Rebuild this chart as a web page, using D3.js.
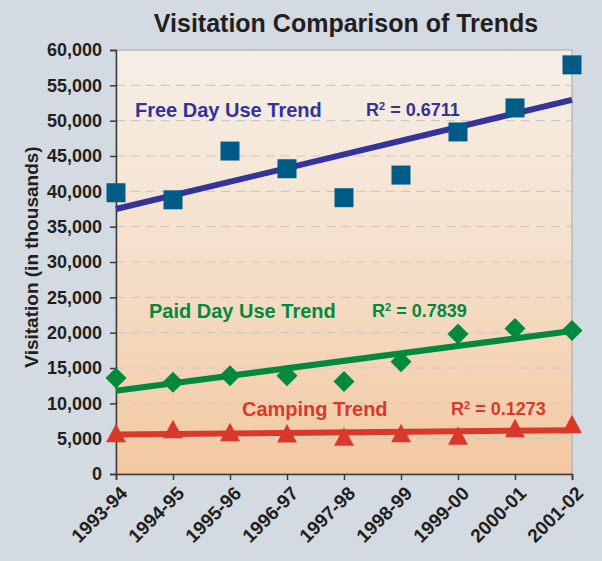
<!DOCTYPE html>
<html>
<head>
<meta charset="utf-8">
<script src="https://cdn.jsdelivr.net/npm/d3@7"></script>
<style>
  body { margin: 0; background: #d3dae1; }
  svg { display: block; font-family: "Liberation Sans", Arial, sans-serif; }
</style>
</head>
<body>
<div id="chart"></div>
<script>
var seasons = ["1993-94", "1994-95", "1995-96", "1996-97", "1997-98", "1998-99", "1999-00", "2000-01", "2001-02"]
var freeDayUse = [39800, 38800, 45700, 43200, 39100, 42300, 48400, 51800, 57900]
var paidDayUse = [13600, 13000, 13900, 13900, 13100, 15900, 19800, 20600, 20300]
var camping = [5700, 6250, 5830, 5660, 5200, 5700, 5350, 6400, 6980]
var yTicks = [0, 5000, 10000, 15000, 20000, 25000, 30000, 35000, 40000, 45000, 50000, 55000, 60000]
var seriesNames = ["Free Day Use Trend", "Paid Day Use Trend", "Camping Trend"]
var rSquared = ["0.6711", "0.7839", "0.1273"]

var width = 602,
  height = 561,
  margin = { top: 50, right: 30, bottom: 87, left: 116 }

var svg = d3
  .select("#chart")
  .append("svg")
  .attr("width", width)
  .attr("height", height)

svg.append("rect").attr("width", width).attr("height", height).attr("fill", "#d3dae1")

var defs = svg.append("defs")
var grad = defs
  .append("linearGradient")
  .attr("id", "plotbg")
  .attr("x1", 0).attr("y1", 0).attr("x2", 0).attr("y2", 1)
grad.append("stop").attr("offset", "0%").attr("stop-color", "#f6efe7")
grad.append("stop").attr("offset", "45%").attr("stop-color", "#f5e1cd")
grad.append("stop").attr("offset", "100%").attr("stop-color", "#f3c8a0")

var x = d3
  .scalePoint()
  .domain(seasons)
  .range([margin.left, width - margin.right])

var y = d3
  .scaleLinear()
  .domain([0, 60000])
  .range([height - margin.bottom, margin.top])

// plot background
svg
  .append("rect")
  .attr("x", margin.left)
  .attr("y", margin.top)
  .attr("width", width - margin.right - margin.left)
  .attr("height", height - margin.bottom - margin.top)
  .attr("fill", "url(#plotbg)")
  .attr("stroke", "#a6a6a6")
  .attr("stroke-width", 1)

// grid lines
svg
  .append("g")
  .selectAll("line")
  .data(yTicks.filter(function(d) { return d > 0 && d < 60000 }))
  .enter()
  .append("line")
  .attr("x1", margin.left)
  .attr("x2", width - margin.right)
  .attr("y1", function(d) { return y(d) })
  .attr("y2", function(d) { return y(d) })
  .attr("stroke", "#c9c9c9")
  .attr("stroke-width", 1.2)
  .attr("stroke-dasharray", "9,6")

// y axis
var yAxis = svg
  .append("g")
  .attr("transform", "translate(" + margin.left + ",0)")
  .call(
    d3.axisLeft(y)
      .tickValues(yTicks)
      .tickFormat(d3.format(","))
      .tickSize(6)
      .tickPadding(8)
  )
yAxis.select(".domain").attr("stroke", "#3a3a3a").attr("stroke-width", 1.5)
yAxis.selectAll(".tick line").attr("stroke", "#3a3a3a").attr("stroke-width", 1.5)
yAxis
  .selectAll("text")
  .attr("fill", "#231f20")
  .style("font-size", "18px")
  .style("font-weight", "bold")
  .style("font-family", "Liberation Sans, Arial, sans-serif")

// x axis
var xAxis = svg
  .append("g")
  .attr("transform", "translate(0," + (height - margin.bottom) + ")")
  .call(d3.axisBottom(x).tickSize(6).tickPadding(4))
xAxis.select(".domain").attr("stroke", "#3a3a3a").attr("stroke-width", 1.5)
xAxis.selectAll(".tick line").attr("stroke", "#3a3a3a").attr("stroke-width", 1.5)
xAxis
  .selectAll("text")
  .attr("fill", "#231f20")
  .style("font-size", "19px")
  .style("font-weight", "bold")
  .style("font-family", "Liberation Sans, Arial, sans-serif")
  .attr("text-anchor", "end")
  .attr("dx", "-6px")
  .attr("dy", "13px")
  .attr("transform", "rotate(-45)")

// titles
svg
  .append("text")
  .attr("x", 346)
  .attr("y", 32)
  .attr("text-anchor", "middle")
  .attr("fill", "#231f20")
  .style("font-size", "25px")
  .style("font-weight", "bold")
  .text("Visitation Comparison of Trends")

svg
  .append("text")
  .attr("transform", "translate(38," + 257 + ") rotate(-90)")
  .attr("text-anchor", "middle")
  .attr("fill", "#231f20")
  .style("font-size", "19px")
  .style("font-weight", "bold")
  .text("Visitation (in thousands)")

// linear regression for the trend lines
function trend(values) {
  var n = values.length
  var mx = d3.mean(values, function(d, i) { return i })
  var my = d3.mean(values)
  var sxy = d3.sum(values, function(d, i) { return (i - mx) * (d - my) })
  var sxx = d3.sum(values, function(d, i) { return (i - mx) * (i - mx) })
  var slope = sxy / sxx
  var intercept = my - slope * mx
  return [intercept, intercept + slope * (n - 1)]
}

var series = [
  { name: seriesNames[0], values: freeDayUse, r2: rSquared[0], marker: "square", markerColor: "#005b86", lineColor: "#333399" },
  { name: seriesNames[1], values: paidDayUse, r2: rSquared[1], marker: "diamond", markerColor: "#00893f", lineColor: "#00893f" },
  { name: seriesNames[2], values: camping, r2: rSquared[2], marker: "triangle", markerColor: "#d9392b", lineColor: "#d9392b" }
]

var markerPath = {
  square: "M-9.5,-9.5H9.5V9.5H-9.5Z",
  diamond: "M0,-10.5L10.5,0L0,10.5L-10.5,0Z",
  triangle: "M0,-10L10,8.5H-10Z"
}

var lastIndex = seasons.length - 1

series.forEach(function(s) {
  var g = svg.append("g")
  var ends = trend(s.values)

  var pts = s.values.map(function(v, i) { return { season: seasons[i], value: v } })

  if (s.marker === "square") {
    g.append("line")
      .attr("x1", x(seasons[0]))
      .attr("x2", x(seasons[lastIndex]))
      .attr("y1", y(ends[0]))
      .attr("y2", y(ends[1]))
      .attr("stroke", s.lineColor)
      .attr("stroke-width", 6)
  }

  g.selectAll("path.mark")
    .data(pts)
    .enter()
    .append("path")
    .attr("class", "mark")
    .attr("d", markerPath[s.marker])
    .attr("transform", function(d) { return "translate(" + x(d.season) + "," + y(d.value) + ")" })
    .attr("fill", s.markerColor)

  if (s.marker !== "square") {
    g.append("line")
      .attr("x1", x(seasons[0]))
      .attr("x2", x(seasons[lastIndex]))
      .attr("y1", y(ends[0]))
      .attr("y2", y(ends[1]))
      .attr("stroke", s.lineColor)
      .attr("stroke-width", 6)
  }
})

// labels
var labelPos = [
  { x: 135, y: 117, rx: 366 },
  { x: 149, y: 318, rx: 372 },
  { x: 242, y: 416, rx: 451 }
]

series.forEach(function(s, i) {
  var p = labelPos[i]
  svg.append("text")
    .attr("x", p.x)
    .attr("y", p.y)
    .attr("fill", s.lineColor)
    .style("font-size", "20px")
    .style("font-weight", "bold")
    .text(s.name)

  var t = svg.append("text")
    .attr("x", p.rx)
    .attr("y", p.y - 1)
    .attr("fill", s.lineColor)
    .style("font-size", "18px")
    .style("font-weight", "bold")
  t.append("tspan").text("R")
  t.append("tspan").attr("dy", "-6px").style("font-size", "11px").text("2")
  t.append("tspan").attr("dy", "6px").text(" = " + s.r2)
})
</script>
</body>
</html>
